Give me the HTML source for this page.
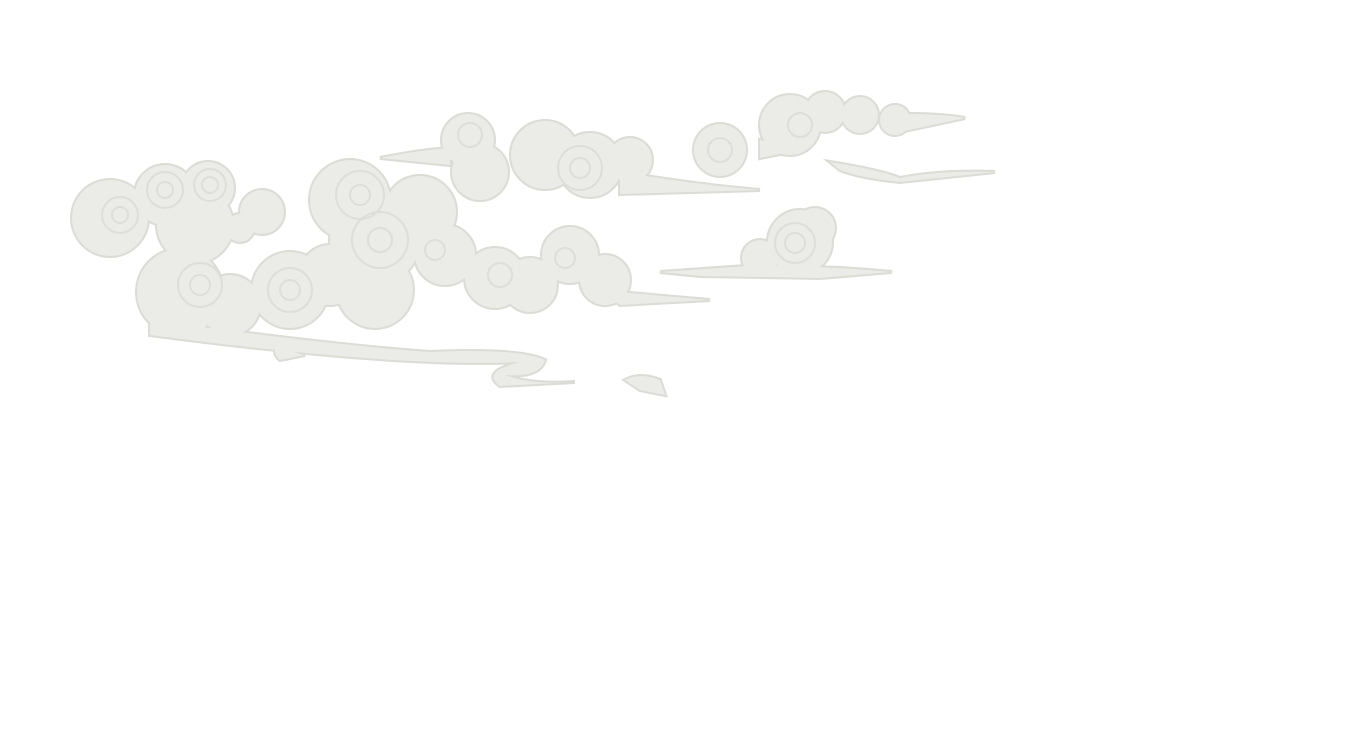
<!DOCTYPE html>
<html><head><meta charset="utf-8"><style>
html,body{margin:0;padding:0;background:#fff;width:1350px;height:750px;overflow:hidden}
</style></head><body>
<svg width="1350" height="750" viewBox="0 0 1350 750" xmlns="http://www.w3.org/2000/svg">
<defs>
<g id="c">
<circle cx="110" cy="218" r="38"/>
<circle cx="165" cy="195" r="30"/>
<circle cx="208" cy="188" r="26"/>
<circle cx="195" cy="225" r="38"/>
<circle cx="262" cy="212" r="22"/>
<circle cx="240" cy="228" r="14"/>
<circle cx="180" cy="292" r="43"/>
<circle cx="230" cy="305" r="30"/>
<circle cx="290" cy="290" r="38"/>
<circle cx="350" cy="200" r="40"/>
<circle cx="375" cy="240" r="45"/>
<circle cx="420" cy="212" r="36"/>
<circle cx="375" cy="290" r="38"/>
<circle cx="445" cy="255" r="30"/>
<circle cx="495" cy="278" r="30"/>
<circle cx="530" cy="285" r="27"/>
<circle cx="570" cy="255" r="28"/>
<circle cx="605" cy="280" r="25"/>
<circle cx="330" cy="275" r="30"/>
<path d="M150 320 Q330 345 430 352 Q520 348 545 360 Q540 378 505 375 Q530 385 575 382 L500 386 Q480 372 520 362 Q400 368 150 335 Z"/>
<path d="M280 340 Q295 355 305 355 L280 360 Q270 352 280 340 Z"/>
<path d="M600 290 Q650 295 710 300 L620 305 Z"/>
<circle cx="468" cy="140" r="26"/>
<circle cx="480" cy="172" r="28"/>
<circle cx="545" cy="155" r="34"/>
<circle cx="590" cy="165" r="32"/>
<circle cx="630" cy="160" r="22"/>
<path d="M380 158 Q420 150 450 148 L450 165 Z"/>
<path d="M620 172 Q700 185 760 190 L620 194 Z"/>
<circle cx="720" cy="150" r="26"/>
<circle cx="790" cy="125" r="30"/>
<circle cx="825" cy="112" r="20"/>
<circle cx="860" cy="115" r="18"/>
<circle cx="895" cy="120" r="15"/>
<path d="M760 140 L800 150 L760 158 Z"/>
<path d="M880 115 Q930 112 965 118 L900 132 Z"/>
<path d="M830 162 Q880 170 900 178 Q940 170 995 172 L900 182 Q860 178 840 170 Z"/>
<circle cx="760" cy="258" r="18"/>
<circle cx="800" cy="242" r="32"/>
<circle cx="815" cy="228" r="20"/>
<path d="M660 272 Q720 268 760 265 L840 268 Q870 270 892 272 L820 278 L700 276 Z"/>
<path d="M625 380 Q640 372 660 380 L665 395 L640 390 Z"/>
</g>
</defs>
<use href="#c" fill="#dcdcd6" stroke="#dcdcd6" stroke-width="4"/>
<use href="#c" fill="#ebebe7"/>
<g fill="none" stroke="#dedeD8" stroke-width="2">
<circle cx="120" cy="215" r="8"/><circle cx="120" cy="215" r="18"/>
<circle cx="165" cy="190" r="8"/><circle cx="165" cy="190" r="18"/>
<circle cx="210" cy="185" r="8"/><circle cx="210" cy="185" r="16"/>
<circle cx="200" cy="285" r="10"/><circle cx="200" cy="285" r="22"/>
<circle cx="290" cy="290" r="10"/><circle cx="290" cy="290" r="22"/>
<circle cx="360" cy="195" r="10"/><circle cx="360" cy="195" r="24"/>
<circle cx="380" cy="240" r="12"/><circle cx="380" cy="240" r="28"/>
<circle cx="435" cy="250" r="10"/><circle cx="500" cy="275" r="12"/>
<circle cx="565" cy="258" r="10"/><circle cx="470" cy="135" r="12"/>
<circle cx="580" cy="168" r="10"/><circle cx="580" cy="168" r="22"/>
<circle cx="795" cy="243" r="10"/><circle cx="795" cy="243" r="20"/>
<circle cx="800" cy="125" r="12"/><circle cx="720" cy="150" r="12"/>
</g>
</svg>
</body></html>
